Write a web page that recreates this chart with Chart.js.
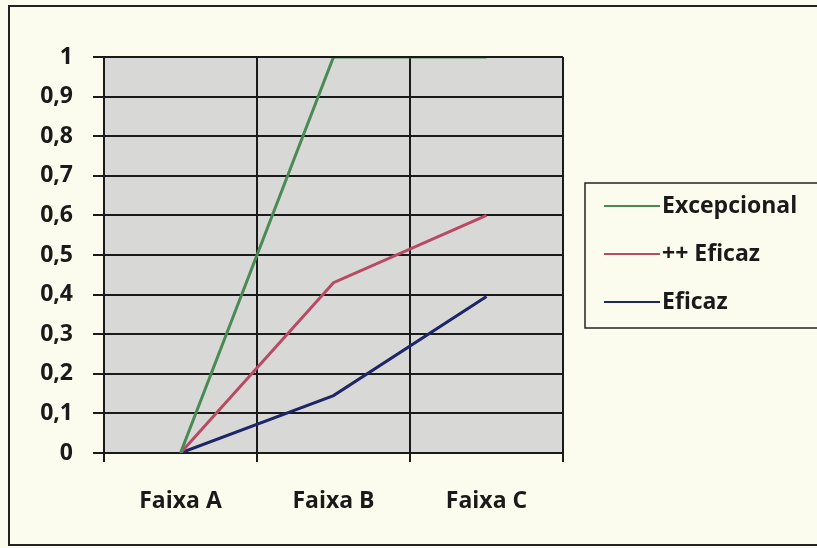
<!DOCTYPE html>
<html><head><meta charset="utf-8">
<script src="https://cdn.jsdelivr.net/npm/chart.js@4"></script>
<style>html,body{margin:0;padding:0;background:#fcfcee;}#wrap{width:817px;height:548px;}</style>
</head><body><div id="wrap"><canvas id="c" width="817" height="548"></canvas></div>
<script>
const categories = ["Faixa A", "Faixa B", "Faixa C"];
const excepcional = [0, 1, 1];
const maisEficaz = [0, 0.43, 0.6];
const eficaz = [0, 0.145, 0.395];
const seriesLabels = ["Excepcional", "++ Eficaz", "Eficaz"];
const seriesColors = ["#4a8a55", "#b94a64", "#1e2668"];
const yTicks = [0, 0.1, 0.2, 0.3, 0.4, 0.5, 0.6, 0.7, 0.8, 0.9, 1];

const FONT = "'Open Sans', sans-serif";

const bgPlugin = {
  id: 'bg',
  beforeDraw(chart) {
    const {ctx, chartArea: a} = chart;
    ctx.save();
    ctx.fillStyle = '#fcfcee';
    ctx.fillRect(0, 0, chart.width, chart.height);
    ctx.strokeStyle = '#222';
    ctx.lineWidth = 2;
    ctx.strokeRect(9, 6, 830, 539);
    ctx.fillStyle = '#d8d8d6';
    ctx.fillRect(a.left, a.top, a.right - a.left, a.bottom - a.top);
    ctx.restore();
  },
  afterDraw(chart) {
    const {ctx, chartArea: a} = chart;
    ctx.save();
    ctx.strokeStyle = '#1a1a1a';
    ctx.lineWidth = 2;
    ctx.beginPath();
    ctx.moveTo(a.left, a.top);
    ctx.lineTo(a.right, a.top);
    ctx.stroke();
    ctx.strokeStyle = '#222';
    ctx.lineWidth = 1.5;
    ctx.strokeRect(585, 183, 260, 145);
    ctx.font = "bold 23px " + FONT;
    ctx.textBaseline = 'middle';
    const ys = [206, 254, 302];
    chart.data.datasets.forEach((ds, i) => {
      ctx.strokeStyle = ds.borderColor;
      ctx.lineWidth = 2;
      ctx.beginPath();
      ctx.moveTo(604, ys[i]);
      ctx.lineTo(660, ys[i]);
      ctx.stroke();
      ctx.fillStyle = '#1a1a1a';
      ctx.fillText(ds.label, 662, ys[i]);
    });
    ctx.restore();
  }
};

new Chart(document.getElementById('c'), {
  type: 'line',
  data: {
    labels: categories,
    datasets: [
      {label: seriesLabels[0], data: excepcional, borderColor: seriesColors[0]},
      {label: seriesLabels[1], data: maisEficaz, borderColor: seriesColors[1]},
      {label: seriesLabels[2], data: eficaz, borderColor: seriesColors[2]}
    ]
  },
  options: {
    responsive: false,
    animation: false,
    devicePixelRatio: 1,
    layout: {padding: {left: 8, right: 254, top: 57, bottom: 0}},
    elements: {line: {borderWidth: 3, tension: 0}, point: {radius: 0}},
    plugins: {legend: {display: false}, tooltip: {enabled: false}},
    scales: {
      x: {
        offset: true,
        grid: {offset: true, color: '#1a1a1a', lineWidth: 2, tickLength: 9, drawTicks: true},
        border: {color: '#1a1a1a', width: 2},
        ticks: {color: '#1a1a1a', font: {family: FONT, size: 23, weight: 'bold'}, padding: 26},
        afterFit(s) { s.height = 95; }
      },
      y: {
        min: 0, max: 1,
        afterBuildTicks(s) { s.ticks = yTicks.map(v => ({value: v})); },
        grid: {color: '#1a1a1a', lineWidth: 2, tickLength: 11},
        border: {color: '#1a1a1a', width: 2},
        ticks: {color: '#1a1a1a', font: {family: FONT, size: 23, weight: 'bold'}, padding: 20,
          callback: v => String(v).replace('.', ',')},
        afterFit(s) { s.width = 96; }
      }
    }
  },
  plugins: [bgPlugin]
});
</script></body></html>
